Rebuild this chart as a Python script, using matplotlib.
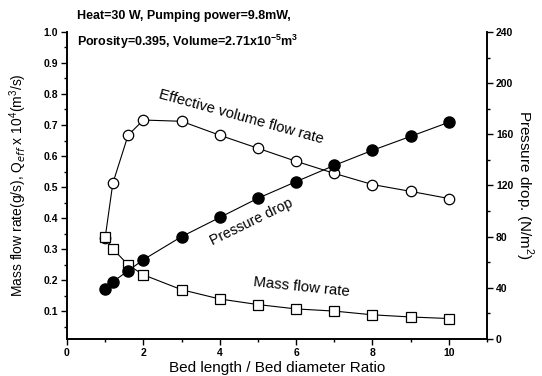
"""Mass flow / effective volume flow and pressure drop vs bed length ratio."""

import matplotlib
matplotlib.use("Agg")
import matplotlib.pyplot as plt
from matplotlib.ticker import MultipleLocator

plt.rcParams["font.family"] = ["Liberation Sans", "DejaVu Sans"]
plt.rcParams["mathtext.fontset"] = "custom"
plt.rcParams["mathtext.rm"] = "Liberation Sans"
plt.rcParams["mathtext.bf"] = "Liberation Sans:bold"

ratio = [1, 1.2, 1.6, 2, 3, 4, 5, 6, 7, 8, 9, 10]
q_eff = [0.337, 0.512, 0.667, 0.716, 0.712, 0.667, 0.625, 0.583, 0.544, 0.508, 0.486, 0.463]
mass_flow = [0.34, 0.301, 0.249, 0.217, 0.169, 0.139, 0.121, 0.107, 0.100, 0.088, 0.081, 0.076]
pressure = [39, 44.7, 53.3, 62, 80, 95, 110, 123, 135.7, 147.5, 158.4, 169.4]

x_ticks = [0, 2, 4, 6, 8, 10]
left_ticks = [0.1, 0.2, 0.3, 0.4, 0.5, 0.6, 0.7, 0.8, 0.9, 1.0]
right_ticks = [0, 40, 80, 120, 160, 200, 240]

fig = plt.figure(figsize=(5.42, 3.76), dpi=100)
ax = fig.add_axes([0.1236, 0.0984, 0.775, 0.8166])
ax2 = ax.twinx()

ax.plot(ratio, q_eff, "-", color="black", lw=0.8, marker="o", ms=7.5,
        mfc="white", mec="black", mew=0.9, zorder=3)
ax.plot(ratio, mass_flow, "-", color="black", lw=0.8, marker="s", ms=7,
        mfc="white", mec="black", mew=0.9, zorder=3)
ax2.plot(ratio, pressure, "-", color="black", lw=0.8, marker="o", ms=8,
         mfc="black", mec="black", zorder=3)

ax.set_xlim(0, 11)
ax.set_ylim(0.01, 1.0)
ax2.set_ylim(0, 240)

ax.xaxis.set_minor_locator(MultipleLocator(1))
ax.yaxis.set_minor_locator(MultipleLocator(0.05))
ax2.yaxis.set_minor_locator(MultipleLocator(20))

for a in (ax, ax2):
    a.spines["top"].set_visible(False)
    for s in a.spines.values():
        s.set_linewidth(1.2)
    a.tick_params(which="major", direction="out", length=4, width=1, labelsize=7.5, pad=2.5)
    a.tick_params(which="minor", direction="out", length=2.5, width=1)

ax.set_xticks(x_ticks)
ax.set_xticklabels([str(v) for v in x_ticks], fontweight="bold")
ax.set_yticks(left_ticks)
ax.set_yticklabels([f"{v:.1f}" for v in left_ticks], fontweight="bold")
ax2.set_yticks(right_ticks)
ax2.set_yticklabels([str(v) for v in right_ticks], fontweight="bold")

ax.set_xlabel("Bed length / Bed diameter Ratio", fontsize=11, labelpad=2)
ax.set_ylabel(r"Mass flow rate(g/s), Q$_{eff}$ x 10$^4$(m$^3$/s)", fontsize=10, labelpad=10)
ax2.set_ylabel(r"Pressure drop. (N/m$^2$)", fontsize=11, rotation=-90, va="center")
ax2.yaxis.set_label_coords(1.088, 0.5)

ax.text(4.55, 0.725, "Effective volume flow rate", fontsize=10.7, rotation=-15.5,
        ha="center", va="center")
ax.text(4.82, 0.389, "Pressure drop", fontsize=10.3, rotation=26,
        ha="center", va="center")
ax.text(6.13, 0.178, "Mass flow rate", fontsize=10.8, rotation=-6,
        ha="center", va="center")

fig.text(0.142, 0.958, "Heat=30 W, Pumping power=9.8mW,", fontsize=9,
         fontweight="bold", va="center")
fig.text(0.142, 0.888, r"Porosity=0.395, Volume=2.71x10$^{\mathbf{-5}}$m$^{\mathbf{3}}$",
         fontsize=9, fontweight="bold", va="center")

fig.savefig("out.png", dpi=100)
